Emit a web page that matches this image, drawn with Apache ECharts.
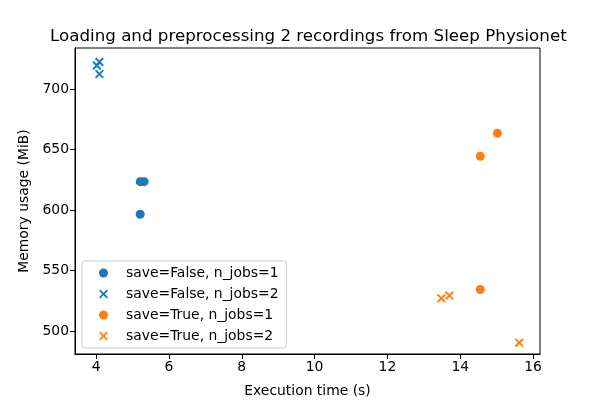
<!DOCTYPE html>
<html><head><meta charset="utf-8">
<script src="https://cdn.jsdelivr.net/npm/echarts@6/dist/echarts.min.js"></script>
<style>html,body{margin:0;padding:0;background:#fff}#c{width:600px;height:400px}</style>
</head><body><div id="c"></div>
<script>
const titleText = 'Loading and preprocessing 2 recordings from Sleep Physionet';
const xName = 'Execution time (s)';
const yName = 'Memory usage (MiB)';
const xTicks = [4, 6, 8, 10, 12, 14, 16];
const yTicks = [500, 550, 600, 650, 700];
const seriesNames = ['save=False, n_jobs=1', 'save=False, n_jobs=2', 'save=True, n_jobs=1', 'save=True, n_jobs=2'];
const falseJobs1 = [[5.21, 623.5], [5.32, 623.5], [5.21, 596.5]];
const falseJobs2 = [[4.02, 719.5], [4.09, 722.5], [4.09, 712.5]];
const trueJobs1 = [[15.02, 663.5], [14.55, 644.5], [14.55, 534.3]];
const trueJobs2 = [[13.48, 527], [13.70, 529.3], [15.62, 490.4]];
const colors = ['#1f77b4', '#1f77b4', '#ff7f0e', '#ff7f0e'];

const cross = 'path://M0,1.5L1.5,0L5,3.5L8.5,0L10,1.5L6.5,5L10,8.5L8.5,10L5,6.5L1.5,10L0,8.5L3.5,5Z';
const symbols = ['circle', cross, 'circle', cross];
const datasets = [falseJobs1, falseJobs2, trueJobs1, trueJobs2];
const font = 'DejaVu Sans';

const chart = echarts.init(document.getElementById('c'), null, {renderer: 'canvas'});
chart.setOption({
  animation: false,
  backgroundColor: '#fff',
  title: {text: titleText, left: 45, top: 23, textStyle: {fontFamily: font, fontSize: 16.7, fontWeight: 'normal', color: '#000'}},
  grid: {left: 75, right: 60, top: 48, bottom: 46, outerBoundsMode: 'none', containLabel: false, show: true, borderColor: '#000', borderWidth: 1, backgroundColor: 'transparent'},
  xAxis: {
    type: 'value', min: 3.42, max: 16.19,
    name: xName, nameLocation: 'middle', nameGap: 30,
    nameTextStyle: {fontFamily: font, fontSize: 13.9, color: '#000'},
    axisLine: {show: true, lineStyle: {color: '#000', width: 1}},
    axisTick: {show: true, length: 5, lineStyle: {color: '#000'}, customValues: xTicks},
    axisLabel: {fontFamily: font, fontSize: 13.9, color: '#000', margin: 6, customValues: xTicks},
    splitLine: {show: false}
  },
  yAxis: {
    type: 'value', min: 481, max: 734,
    name: yName, nameLocation: 'middle', nameGap: 43,
    nameTextStyle: {fontFamily: font, fontSize: 13.9, color: '#000'},
    axisLine: {show: true, lineStyle: {color: '#000', width: 1}},
    axisTick: {show: true, length: 5, lineStyle: {color: '#000'}, customValues: yTicks},
    axisLabel: {fontFamily: font, fontSize: 13.9, color: '#000', margin: 6, customValues: yTicks},
    splitLine: {show: false}
  },
  legend: {
    orient: 'vertical', left: 82, top: 261,
    padding: [5, 8, 5, 17],
    itemWidth: 9, itemHeight: 9, itemGap: 7,
    borderColor: '#cccccc', borderWidth: 1, borderRadius: 3,
    backgroundColor: 'rgba(255,255,255,0.8)',
    textStyle: {fontFamily: font, fontSize: 13.9, color: '#000', padding: [0, 0, 0, 13]},
    data: seriesNames
  },
  series: datasets.map((d, i) => ({
    type: 'scatter', name: seriesNames[i], data: d,
    symbol: symbols[i], symbolSize: 9,
    itemStyle: {color: colors[i], opacity: 1}
  }))
});
</script></body></html>
